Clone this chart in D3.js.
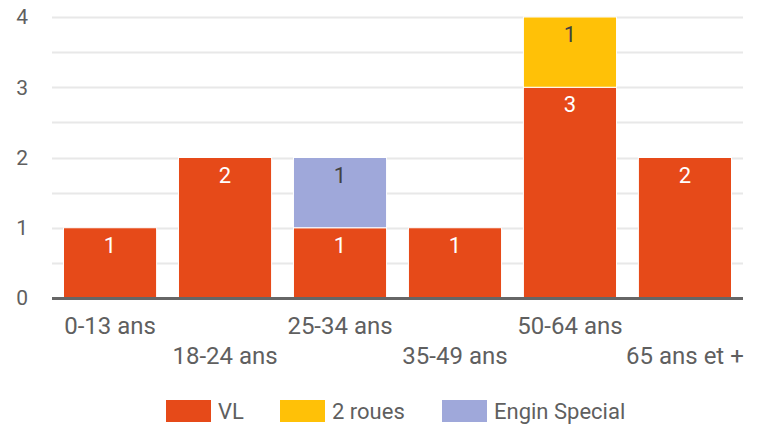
<!DOCTYPE html>
<html>
<head>
<meta charset="utf-8">
<script src="https://cdn.jsdelivr.net/npm/d3@7"></script>
<style>
  body { margin: 0; background: #fff; }
  text { font-family: Roboto, "Noto Sans", sans-serif; }
</style>
</head>
<body>
<svg id="chart" width="761" height="427"></svg>
<script>
// data
var categories = ["0-13 ans", "18-24 ans", "25-34 ans", "35-49 ans", "50-64 ans", "65 ans et +"];
var seriesNames = ["VL", "2 roues", "Engin Special"];
var vl = [1, 2, 1, 1, 3, 2];
var deuxRoues = [0, 0, 0, 0, 1, 0];
var enginSpecial = [0, 0, 1, 0, 0, 0];
var yTicks = [0, 1, 2, 3, 4];
var colors = ["#e64a19", "#ffc107", "#9fa8da"];
var labelColors = ["#ffffff", "#424242", "#424242"];

var svg = d3.select("#chart"),
    margin = {left: 52, right: 18, top: 17, bottom: 129},
    width = 761 - margin.left - margin.right,
    height = 427 - margin.top - margin.bottom;

var rows = categories.map(function(c, i) {
  return {cat: c, "VL": vl[i], "2 roues": deuxRoues[i], "Engin Special": enginSpecial[i]};
});

var x = d3.scaleBand().domain(categories).range([0, width]).paddingInner(0.19).paddingOuter(0.1);
var y = d3.scaleLinear().domain([0, 4]).range([height, 0]);

var g = svg.append("g").attr("transform", "translate(" + margin.left + "," + margin.top + ")");

// grid (major + minor)
g.selectAll(".grid")
  .data(d3.range(0.5, 4.01, 0.5))
  .enter().append("line")
    .attr("x1", 0).attr("x2", width)
    .attr("y1", function(d) { return Math.round(y(d)) + 0.5; })
    .attr("y2", function(d) { return Math.round(y(d)) + 0.5; })
    .attr("stroke", "#e8e8e8").attr("stroke-width", 2);

// y labels
g.selectAll(".ylab")
  .data(yTicks)
  .enter().append("text")
    .attr("x", -24).attr("y", function(d) { return y(d); })
    .attr("dy", "0.35em").attr("text-anchor", "end")
    .attr("fill", "#5f5f5f").attr("font-size", 21)
    .text(function(d) { return d; });

// stacked bars
var stacked = d3.stack().keys(seriesNames)(rows);

var layer = g.selectAll(".layer")
  .data(stacked)
  .enter().append("g")
    .attr("fill", function(d, i) { return colors[i]; });

layer.selectAll("rect")
  .data(function(d) { return d.filter(function(p) { return p[1] > p[0]; }); })
  .enter().append("rect")
    .attr("x", function(d) { return x(d.data.cat); })
    .attr("width", x.bandwidth())
    .attr("y", function(d) { return y(d[1]); })
    .attr("height", function(d) { return y(d[0]) - y(d[1]); })
    .attr("stroke", "#fff").attr("stroke-width", 1);

// value labels
stacked.forEach(function(s, si) {
  g.selectAll(".lab" + si)
    .data(s.filter(function(p) { return p[1] > p[0]; }))
    .enter().append("text")
      .attr("x", function(d) { return x(d.data.cat) + x.bandwidth() / 2; })
      .attr("y", function(d) { return y(d[1]) + 25; })
      .attr("text-anchor", "middle")
      .attr("fill", labelColors[si]).attr("font-size", 22)
      .text(function(d) { return d[1] - d[0]; });
});

// baseline
g.append("line")
  .attr("x1", 0).attr("x2", width)
  .attr("y1", y(0) + 0.5).attr("y2", y(0) + 0.5)
  .attr("stroke", "#666").attr("stroke-width", 3);

// x labels, staggered
g.selectAll(".xlab")
  .data(categories)
  .enter().append("text")
    .attr("x", function(d) { return x(d) + x.bandwidth() / 2; })
    .attr("y", function(d, i) { return height + (i % 2 ? 66 : 36); })
    .attr("text-anchor", "middle")
    .attr("fill", "#5f5f5f").attr("font-size", 24)
    .text(function(d) { return d; });

// legend
var legendX = [166, 280, 442];
var lg = svg.selectAll(".legend")
  .data(seriesNames)
  .enter().append("g")
    .attr("transform", function(d, i) { return "translate(" + legendX[i] + ",400)"; });
lg.append("rect").attr("width", 45).attr("height", 22)
  .attr("fill", function(d, i) { return colors[i]; });
lg.append("text").attr("x", 52).attr("y", 11).attr("dy", "0.35em")
  .attr("fill", "#5f5f5f").attr("font-size", 22)
  .text(function(d) { return d; });
</script>
</body>
</html>
